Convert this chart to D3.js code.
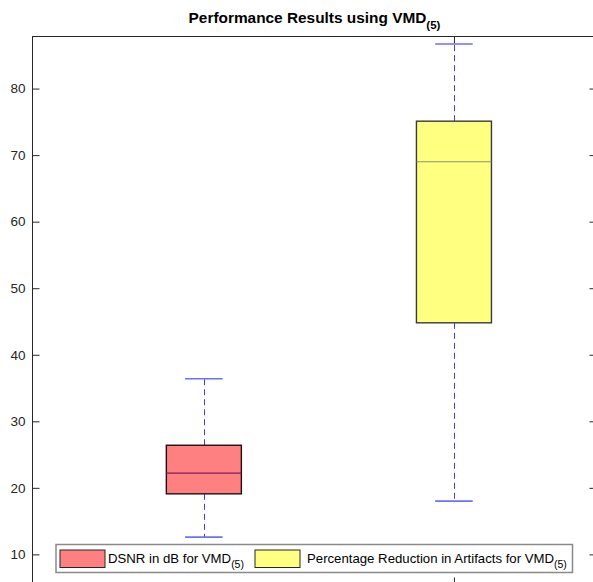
<!DOCTYPE html>
<html>
  <head>
    <meta charset="utf-8">
    <title>Performance Results using VMD(5)</title>
    <script src="https://d3js.org/d3.v7.min.js"></script>
    <style>
      body { margin: 0; background: #fff; }
      svg { display: block; font-family: "Liberation Sans", Arial, sans-serif; }
      .tick text { fill: #262626; font-size: 13.5px; }
      .domain, .tick line { stroke: #262626; }
    </style>
  </head>
  <body>
    <svg id="chart" width="593" height="582"></svg>
    <script>
      // chart data
      const groups = ["DSNR in dB for VMD", "Percentage Reduction in Artifacts for VMD"];
      const subscript = "(5)";
      const positions = [1, 2];
      const lowerWhisker = [12.6, 18.0];
      const q1 = [19.1, 44.8];
      const median = [22.2, 69.0];
      const q3 = [26.4, 75.1];
      const upperWhisker = [36.4, 86.7];
      const yTicks = [10, 20, 30, 40, 50, 60, 70, 80];
      const xTicks = [2];

      // look
      const fills = ["#ff8080", "#ffff80"];
      const edges = ["#1e0f14", "#3a3a3a"];
      const medians = ["#7d1d5a", "#8c8c78"];
      const margin = { top: 36, right: -4, bottom: -3, left: 32 };
      const width = 593, height = 582;

      const chart = d3.select("#chart");

      const x = d3.scaleLinear()
        .domain([0.3128, 2.572])
        .range([margin.left, width - margin.right]);
      const y = d3.scaleLinear()
        .domain([5.4, 87.9])
        .range([height - margin.bottom, margin.top]);

      const boxW = 0.3, capW = 0.15;

      // axes (box on, ticks inward)
      const axisGroup = chart.append("g");
      axisGroup.append("g")
        .attr("transform", "translate(" + (margin.left + 0.5) + ",0)")
        .call(d3.axisLeft(y).tickValues(yTicks).tickSizeInner(-7).tickSizeOuter(0).tickPadding(14))
        .call(g => g.select(".domain").remove());
      axisGroup.append("g")
        .attr("transform", "translate(" + (width - margin.right - 0.5) + ",0)")
        .call(d3.axisRight(y).tickValues(yTicks).tickSizeInner(-7).tickSizeOuter(0).tickFormat(""))
        .call(g => g.select(".domain").remove());
      axisGroup.append("g")
        .attr("transform", "translate(0," + (margin.top + 0.5) + ")")
        .call(d3.axisTop(x).tickValues(xTicks).tickSizeInner(-7).tickSizeOuter(0).tickFormat(""))
        .call(g => g.select(".domain").remove());
      axisGroup.append("g")
        .attr("transform", "translate(0," + (height - margin.bottom - 0.5) + ")")
        .call(d3.axisBottom(x).tickValues(xTicks).tickSizeInner(-7).tickSizeOuter(0).tickFormat(""))
        .call(g => g.select(".domain").remove());
      axisGroup.selectAll(".tick text").attr("dx", 7);
      axisGroup.append("rect")
        .attr("x", margin.left + 0.5)
        .attr("y", margin.top + 0.5)
        .attr("width", width - margin.right - margin.left - 1)
        .attr("height", height - margin.bottom - margin.top - 1)
        .attr("fill", "none")
        .attr("stroke", "#262626");

      // boxes
      const boxes = chart.append("g")
        .selectAll("g")
        .data(positions)
        .join("g");
      boxes.append("line")
        .attr("x1", (d) => Math.round(x(d)) + 0.5)
        .attr("x2", (d) => Math.round(x(d)) + 0.5)
        .attr("y1", (d, i) => y(q3[i]))
        .attr("y2", (d, i) => y(upperWhisker[i]))
        .attr("stroke", "#3b3bff")
        .attr("stroke-dasharray", "6,4");
      boxes.append("line")
        .attr("x1", (d) => Math.round(x(d)) + 0.5)
        .attr("x2", (d) => Math.round(x(d)) + 0.5)
        .attr("y1", (d, i) => y(q1[i]))
        .attr("y2", (d, i) => y(lowerWhisker[i]))
        .attr("stroke", "#3b3bff")
        .attr("stroke-dasharray", "6,4");
      boxes.append("line")
        .attr("x1", (d) => x(d - capW / 2))
        .attr("x2", (d) => x(d + capW / 2))
        .attr("y1", (d, i) => y(upperWhisker[i]))
        .attr("y2", (d, i) => y(upperWhisker[i]))
        .attr("stroke", "#6e6eff")
        .attr("stroke-width", 1.6);
      boxes.append("line")
        .attr("x1", (d) => x(d - capW / 2))
        .attr("x2", (d) => x(d + capW / 2))
        .attr("y1", (d, i) => y(lowerWhisker[i]))
        .attr("y2", (d, i) => y(lowerWhisker[i]))
        .attr("stroke", "#6e6eff")
        .attr("stroke-width", 1.6);
      boxes.append("rect")
        .attr("x", (d) => x(d - boxW / 2))
        .attr("y", (d, i) => y(q3[i]))
        .attr("width", x(boxW) - x(0))
        .attr("height", (d, i) => y(q1[i]) - y(q3[i]))
        .attr("fill", (d, i) => fills[i])
        .attr("stroke", (d, i) => edges[i])
        .attr("stroke-width", 1.4);
      boxes.append("line")
        .attr("x1", (d) => x(d - boxW / 2))
        .attr("x2", (d) => x(d + boxW / 2))
        .attr("y1", (d, i) => y(median[i]))
        .attr("y2", (d, i) => y(median[i]))
        .attr("stroke", (d, i) => medians[i])
        .attr("stroke-width", 1.2);

      // title
      const title = chart.append("text")
        .attr("x", (margin.left + width - margin.right) / 2)
        .attr("y", 23)
        .attr("text-anchor", "middle")
        .attr("font-weight", "bold")
        .attr("font-size", 15.4)
        .attr("fill", "#000");
      title.append("tspan").text("Performance Results using VMD");
      title.append("tspan").attr("font-size", 11.5).attr("dy", 6).text(subscript);

      // legend
      const legend = chart.append("g");
      legend.append("rect")
        .attr("x", 56).attr("y", 544.5)
        .attr("width", 516.5).attr("height", 28)
        .attr("fill", "#fff")
        .attr("stroke", "#8a8a8a")
        .attr("stroke-width", 1.5);
      const legendX = [60, 255];
      const items = legend.selectAll(".item")
        .data(groups)
        .join("g")
          .attr("transform", (d, i) => "translate(" + legendX[i] + ",550)");
      items.append("rect")
        .attr("width", 45).attr("height", 17.5)
        .attr("fill", (d, i) => fills[i])
        .attr("stroke", "#262626");
      const itemText = items.append("text")
        .attr("x", (d, i) => i ? 52 : 48)
        .attr("y", 13)
        .attr("font-size", 13.2)
        .attr("fill", "#000");
      itemText.append("tspan").text((d) => d);
      itemText.append("tspan").attr("font-size", 10.5).attr("dy", 5).text(subscript);
    </script>
  </body>
</html>
